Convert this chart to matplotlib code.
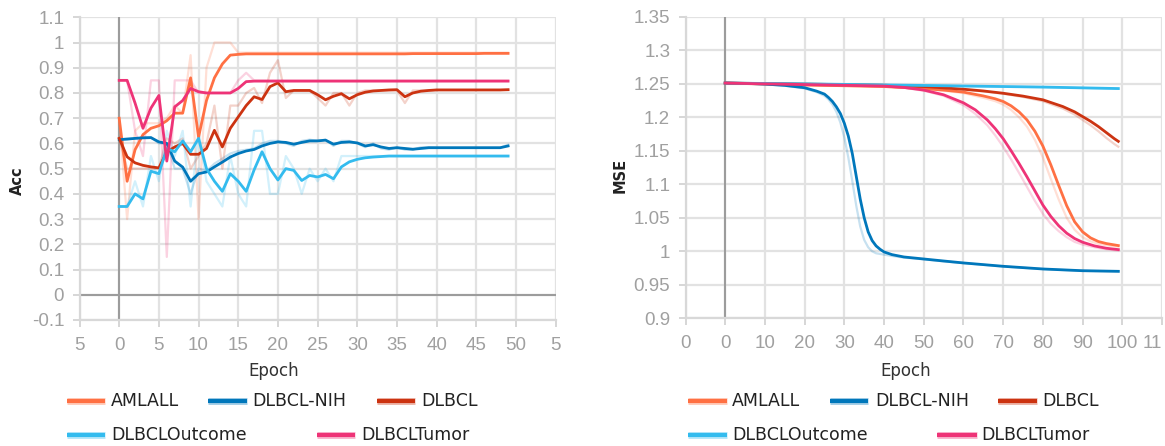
import matplotlib
matplotlib.use("Agg")
import matplotlib.pyplot as plt
from matplotlib.lines import Line2D

# ---------------- data ----------------
series_names = ["AMLALL", "DLBCL-NIH", "DLBCL", "DLBCLOutcome", "DLBCLTumor"]
series_colors = ["#ff7043", "#0077bb", "#cc3311", "#33bbee", "#ee3377"]

# Left panel: accuracy per epoch (smoothed curve + raw faint curve)
acc_epochs = list(range(50))

acc_amlall = [0.70, 0.45, 0.575, 0.635, 0.66, 0.67, 0.69, 0.72, 0.72, 0.86,
              0.625, 0.77, 0.86, 0.915, 0.95, 0.953, 0.955, 0.955, 0.955, 0.955,
              0.955, 0.955, 0.955, 0.955, 0.955, 0.955, 0.955, 0.955, 0.955, 0.955,
              0.955, 0.955, 0.955, 0.955, 0.955, 0.955, 0.955, 0.956, 0.956, 0.956,
              0.956, 0.956, 0.956, 0.956, 0.956, 0.956, 0.957, 0.957, 0.957, 0.957]
acc_amlall_raw = [0.70, 0.30, 0.65, 0.68, 0.68, 0.68, 0.70, 0.75, 0.72, 0.95,
                  0.30, 0.90, 1.00, 1.00, 1.00, 0.96, 0.96, 0.96, 0.96, 0.96,
                  0.96, 0.96, 0.96, 0.96, 0.96, 0.96, 0.96, 0.96, 0.96, 0.96,
                  0.96, 0.96, 0.96, 0.96, 0.96, 0.96, 0.96, 0.96, 0.96, 0.96,
                  0.96, 0.96, 0.96, 0.96, 0.96, 0.96, 0.96, 0.96, 0.96, 0.96]

acc_nih = [0.615, 0.617, 0.62, 0.622, 0.623, 0.606, 0.60, 0.53, 0.506, 0.45,
           0.48, 0.487, 0.507, 0.526, 0.546, 0.56, 0.57, 0.576, 0.59, 0.60,
           0.606, 0.604, 0.597, 0.604, 0.61, 0.61, 0.613, 0.597, 0.604, 0.606,
           0.602, 0.59, 0.595, 0.586, 0.58, 0.583, 0.58, 0.577, 0.58, 0.583,
           0.583, 0.583, 0.583, 0.583, 0.583, 0.583, 0.583, 0.583, 0.583, 0.59]
acc_nih_raw = [0.615, 0.62, 0.62, 0.625, 0.625, 0.60, 0.60, 0.50, 0.50, 0.40,
               0.50, 0.49, 0.52, 0.54, 0.56, 0.57, 0.575, 0.58, 0.60, 0.61,
               0.61, 0.60, 0.59, 0.61, 0.615, 0.61, 0.615, 0.59, 0.61, 0.61,
               0.60, 0.585, 0.60, 0.58, 0.575, 0.585, 0.575, 0.575, 0.585, 0.585,
               0.583, 0.583, 0.583, 0.583, 0.583, 0.583, 0.583, 0.583, 0.583, 0.595]

acc_dlbcl = [0.62, 0.547, 0.523, 0.513, 0.507, 0.503, 0.566, 0.586, 0.60, 0.557,
             0.557, 0.58, 0.652, 0.586, 0.66, 0.705, 0.75, 0.785, 0.774, 0.825,
             0.84, 0.805, 0.81, 0.81, 0.81, 0.793, 0.773, 0.787, 0.797, 0.777,
             0.793, 0.803, 0.808, 0.81, 0.812, 0.813, 0.785, 0.80, 0.807, 0.81,
             0.812, 0.812, 0.812, 0.812, 0.812, 0.812, 0.812, 0.812, 0.812, 0.813]
acc_dlbcl_raw = [0.62, 0.50, 0.50, 0.50, 0.50, 0.50, 0.62, 0.60, 0.62, 0.50,
                 0.55, 0.60, 0.75, 0.50, 0.75, 0.75, 0.80, 0.82, 0.76, 0.88,
                 0.93, 0.78, 0.81, 0.81, 0.81, 0.78, 0.75, 0.80, 0.80, 0.75,
                 0.80, 0.81, 0.81, 0.81, 0.81, 0.81, 0.76, 0.81, 0.81, 0.81,
                 0.812, 0.812, 0.812, 0.812, 0.812, 0.812, 0.812, 0.812, 0.812, 0.813]

acc_outcome = [0.35, 0.35, 0.40, 0.38, 0.49, 0.48, 0.58, 0.567, 0.61, 0.567,
               0.62, 0.50, 0.45, 0.41, 0.48, 0.45, 0.41, 0.495, 0.567, 0.50,
               0.455, 0.50, 0.493, 0.453, 0.473, 0.467, 0.477, 0.46, 0.507, 0.527,
               0.537, 0.543, 0.546, 0.548, 0.55, 0.55, 0.55, 0.55, 0.55, 0.55,
               0.55, 0.55, 0.55, 0.55, 0.55, 0.55, 0.55, 0.55, 0.55, 0.55]
acc_outcome_raw = [0.35, 0.35, 0.45, 0.35, 0.55, 0.45, 0.65, 0.55, 0.65, 0.35,
                   0.65, 0.45, 0.40, 0.35, 0.55, 0.40, 0.35, 0.65, 0.65, 0.40,
                   0.40, 0.55, 0.50, 0.40, 0.50, 0.45, 0.50, 0.45, 0.55, 0.55,
                   0.55, 0.55, 0.55, 0.55, 0.55, 0.55, 0.55, 0.55, 0.55, 0.55,
                   0.55, 0.55, 0.55, 0.55, 0.55, 0.55, 0.55, 0.55, 0.55, 0.55]

acc_tumor = [0.85, 0.85, 0.76, 0.66, 0.74, 0.79, 0.53, 0.745, 0.77, 0.818,
             0.805, 0.80, 0.80, 0.80, 0.80, 0.818, 0.845, 0.847, 0.847, 0.847,
             0.847, 0.847, 0.847, 0.847, 0.847, 0.847, 0.847, 0.847, 0.847, 0.847,
             0.847, 0.847, 0.847, 0.847, 0.847, 0.847, 0.847, 0.847, 0.847, 0.847,
             0.847, 0.847, 0.847, 0.847, 0.847, 0.847, 0.847, 0.847, 0.847, 0.847]
acc_tumor_raw = [0.85, 0.85, 0.65, 0.55, 0.85, 0.85, 0.15, 0.85, 0.85, 0.85,
                 0.80, 0.80, 0.80, 0.80, 0.80, 0.85, 0.88, 0.85, 0.85, 0.85,
                 0.85, 0.85, 0.85, 0.85, 0.85, 0.85, 0.85, 0.85, 0.85, 0.85,
                 0.85, 0.85, 0.85, 0.85, 0.85, 0.85, 0.85, 0.85, 0.85, 0.85,
                 0.85, 0.85, 0.85, 0.85, 0.85, 0.85, 0.85, 0.85, 0.85, 0.85]

acc_xticks = [-5, 0, 5, 10, 15, 20, 25, 30, 35, 40, 45, 50, 55]
acc_xticklabels = ["5", "0", "5", "10", "15", "20", "25", "30", "35", "40", "45", "50", "5"]
acc_yticks = [-0.1, 0, 0.1, 0.2, 0.3, 0.4, 0.5, 0.6, 0.7, 0.8, 0.9, 1.0, 1.1]
acc_yticklabels = ["-0.1", "0", "0.1", "0.2", "0.3", "0.4", "0.5", "0.6", "0.7", "0.8", "0.9", "1", "1.1"]

# Right panel: MSE per epoch (smoothed + raw)
mse_amlall_ep = [0, 10, 20, 30, 40, 50, 55, 60, 65, 68, 70, 72, 74, 76, 78, 80, 82, 84, 86, 88, 90, 92, 94, 96, 99]
mse_amlall = [1.251, 1.2495, 1.248, 1.247, 1.2458, 1.2428, 1.2405, 1.2375, 1.2318, 1.2275, 1.2235, 1.217, 1.208,
              1.196, 1.179, 1.157, 1.129, 1.098, 1.068, 1.044, 1.029, 1.020, 1.0145, 1.0115, 1.0085]
mse_amlall_raw = [1.251, 1.2495, 1.248, 1.247, 1.2455, 1.2422, 1.2395, 1.236, 1.229, 1.224, 1.219, 1.211, 1.200,
                  1.186, 1.166, 1.140, 1.108, 1.077, 1.050, 1.032, 1.021, 1.015, 1.011, 1.009, 1.007]

mse_nih_ep = [0, 5, 10, 15, 20, 23, 25, 26, 27, 28, 29, 30, 31, 32, 33, 34, 35, 36, 37, 38, 39, 40, 42, 45, 50,
              55, 60, 70, 80, 90, 99]
mse_nih = [1.251, 1.2505, 1.2495, 1.2475, 1.244, 1.239, 1.2345, 1.2295, 1.2235, 1.2155, 1.2055, 1.191, 1.172,
           1.146, 1.112, 1.078, 1.050, 1.029, 1.016, 1.008, 1.003, 0.999, 0.995, 0.9915, 0.9885,
           0.9855, 0.9826, 0.9776, 0.9736, 0.971, 0.9701]
mse_nih_raw = [1.251, 1.2505, 1.249, 1.247, 1.243, 1.2375, 1.232, 1.2265, 1.219, 1.208, 1.192, 1.170, 1.140,
               1.105, 1.068, 1.037, 1.017, 1.006, 1.000, 0.997, 0.996, 0.995, 0.993, 0.9905, 0.988,
               0.985, 0.9823, 0.9773, 0.9734, 0.9708, 0.970]

mse_dlbcl_ep = [0, 20, 40, 50, 60, 65, 70, 75, 80, 85, 88, 90, 92, 94, 96, 98, 99]
mse_dlbcl = [1.251, 1.2495, 1.2478, 1.2458, 1.2418, 1.2392, 1.2358, 1.2315, 1.226, 1.216, 1.208, 1.201, 1.194,
             1.186, 1.177, 1.168, 1.164]
mse_dlbcl_raw = [1.251, 1.2495, 1.2476, 1.2455, 1.2414, 1.2386, 1.235, 1.2302, 1.224, 1.213, 1.204, 1.196, 1.188,
                 1.179, 1.169, 1.160, 1.156]

mse_outcome_ep = [0, 20, 40, 60, 80, 99]
mse_outcome = [1.251, 1.2498, 1.2482, 1.2466, 1.245, 1.2428]
mse_outcome_raw = [1.251, 1.2497, 1.248, 1.2464, 1.2448, 1.2425]

mse_tumor_ep = [0, 10, 20, 30, 40, 45, 50, 55, 60, 63, 66, 68, 70, 72, 74, 76, 78, 80, 82, 84, 86, 88, 90, 93, 96, 99]
mse_tumor = [1.251, 1.2498, 1.2488, 1.2477, 1.2465, 1.2445, 1.2405, 1.2335, 1.2215, 1.211, 1.196, 1.183, 1.168,
             1.150, 1.131, 1.111, 1.090, 1.069, 1.052, 1.038, 1.027, 1.019, 1.0135, 1.008, 1.0045, 1.0025]
mse_tumor_raw = [1.251, 1.2498, 1.2487, 1.2475, 1.2462, 1.244, 1.2395, 1.232, 1.218, 1.205, 1.188, 1.173, 1.156,
                 1.137, 1.117, 1.096, 1.075, 1.056, 1.041, 1.030, 1.021, 1.014, 1.010, 1.006, 1.003, 1.001]

mse_xticks = [-10, 0, 10, 20, 30, 40, 50, 60, 70, 80, 90, 100, 110]
mse_xticklabels = ["0", "0", "10", "20", "30", "40", "50", "60", "70", "80", "90", "100", "11"]
mse_yticks = [0.9, 0.95, 1.0, 1.05, 1.1, 1.15, 1.2, 1.25, 1.3, 1.35]
mse_yticklabels = ["0.9", "0.95", "1", "1.05", "1.1", "1.15", "1.2", "1.25", "1.3", "1.35"]

# ---------------- drawing ----------------
W, H = 1165, 446
fig = plt.figure(figsize=(W / 100, H / 100), dpi=100)
fig.patch.set_facecolor("white")

TICK_FONT = ["Liberation Sans", "DejaVu Sans"]
GRID_C = "#e2e2e2"


def style_axes(ax, xt, xtl, yt, ytl, xlim, ylim):
    ax.set_xlim(*xlim)
    ax.set_ylim(*ylim)
    ax.set_xticks(xt)
    ax.set_xticklabels(xtl)
    ax.set_yticks(yt)
    ax.set_yticklabels(ytl)
    for lab in ax.get_xticklabels() + ax.get_yticklabels():
        lab.set_fontfamily(TICK_FONT)
    ax.tick_params(axis="both", length=5, width=1.2, color="#d0d0d0",
                   labelcolor="#a0a0a0", labelsize=13.5)
    ax.tick_params(axis="x", pad=7)
    ax.tick_params(axis="y", pad=6)
    ax.grid(True, color=GRID_C, lw=1.6)
    ax.set_axisbelow(True)
    for s in ["top", "right"]:
        ax.spines[s].set_visible(False)
    for s in ["left", "bottom"]:
        ax.spines[s].set_color("#d8d8d8")
        ax.spines[s].set_linewidth(1.6)


axL = fig.add_axes([79.5 / W, 1 - 320 / H, (555.7 - 79.5) / W, (320 - 17.3) / H])
axR = fig.add_axes([685.5 / W, 1 - 318.3 / H, (1162 - 685.5) / W, (318.3 - 16.7) / H])

style_axes(axL, acc_xticks, acc_xticklabels, acc_yticks, acc_yticklabels, (-5, 55), (-0.1, 1.1))
style_axes(axR, mse_xticks, mse_xticklabels, mse_yticks, mse_yticklabels, (-10, 110), (0.9, 1.35))
# the last right-panel label sits at the figure edge in the original; keep it inside
axR.get_xticklabels()[-1].set_horizontalalignment("right")

axL.axvline(0, color="#9c9c9c", lw=1.5, zorder=1.5)
axL.axhline(0, color="#9c9c9c", lw=1.5, zorder=1.5)
axR.axvline(0, color="#9c9c9c", lw=1.5, zorder=1.5)

acc_smooth = [acc_amlall, acc_nih, acc_dlbcl, acc_outcome, acc_tumor]
acc_raw = [acc_amlall_raw, acc_nih_raw, acc_dlbcl_raw, acc_outcome_raw, acc_tumor_raw]
for raw, col in zip(acc_raw, series_colors):
    axL.plot(acc_epochs, raw, color=col, lw=1.6, alpha=0.22, zorder=2)
for sm, col in zip(acc_smooth, series_colors):
    axL.plot(acc_epochs, sm, color=col, lw=2.0, zorder=3, solid_joinstyle="round")

mse_sets = [(mse_amlall_ep, mse_amlall, mse_amlall_raw),
            (mse_nih_ep, mse_nih, mse_nih_raw),
            (mse_dlbcl_ep, mse_dlbcl, mse_dlbcl_raw),
            (mse_outcome_ep, mse_outcome, mse_outcome_raw),
            (mse_tumor_ep, mse_tumor, mse_tumor_raw)]
for (ep, sm, raw), col in zip(mse_sets, series_colors):
    axR.plot(ep, raw, color=col, lw=1.6, alpha=0.22, zorder=2)
for (ep, sm, raw), col in zip(mse_sets, series_colors):
    axR.plot(ep, sm, color=col, lw=2.0, zorder=3, solid_joinstyle="round")

# axis titles
LABEL_FONT = ["DejaVu Sans"]
fig.text(17 / W, 1 - 181 / H, "Acc", rotation=90, ha="center", va="center",
         fontsize=10.5, fontweight="bold", color="#222222", family=LABEL_FONT)
fig.text(620 / W, 1 - 175 / H, "MSE", rotation=90, ha="center", va="center",
         fontsize=10.5, fontweight="bold", color="#222222", family=LABEL_FONT)
fig.text(274 / W, 1 - 371 / H, "Epoch", ha="center", va="center",
         fontsize=12, color="#333333", family=LABEL_FONT)
fig.text(906 / W, 1 - 371 / H, "Epoch", ha="center", va="center",
         fontsize=12, color="#333333", family=LABEL_FONT)

# legends (manual flow layout, as in the original)
def draw_legend(slots):
    for (lx0, lx1, tx, y), name, col in zip(slots, series_names, series_colors):
        yy = 1 - y / H
        fig.add_artist(Line2D([lx0 / W, lx1 / W], [yy, yy], transform=fig.transFigure,
                              color=col, lw=5.0, alpha=0.35, solid_capstyle="butt"))
        fig.add_artist(Line2D([lx0 / W, lx1 / W], [yy, yy], transform=fig.transFigure,
                              color=col, lw=3.0, solid_capstyle="butt"))
        fig.text(tx / W, yy, name, ha="left", va="center", fontsize=12.5,
                 color="#222222", family=LABEL_FONT)


draw_legend([(67, 105, 111, 401), (208, 247, 252, 401), (377, 415, 421, 401),
             (67, 105, 111, 435), (317, 355, 361, 435)])
draw_legend([(688, 727, 732, 401), (830, 868, 875, 401), (998, 1037, 1042, 401),
             (688, 727, 732, 435), (937, 977, 981, 435)])

fig.savefig("out.png", dpi=100)
